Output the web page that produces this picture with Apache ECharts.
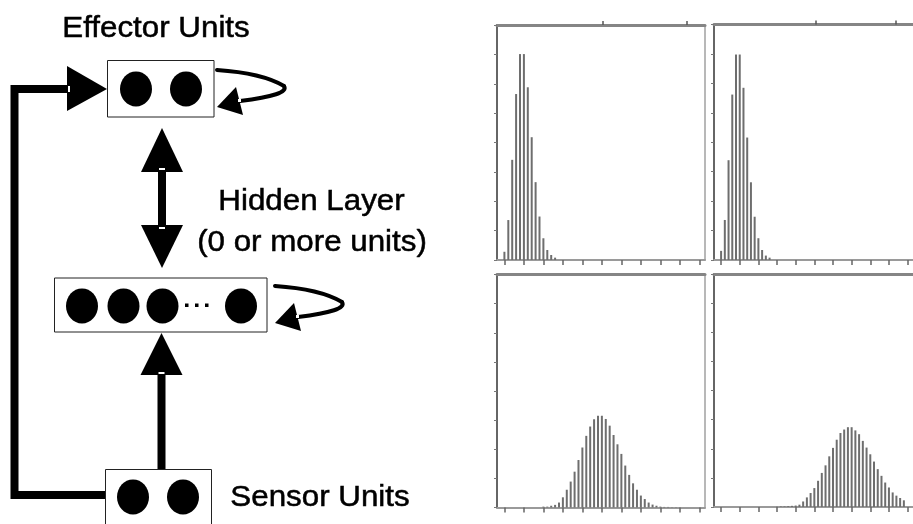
<!DOCTYPE html>
<html>
<head>
<meta charset="utf-8">
<script src="https://cdn.jsdelivr.net/npm/echarts@6/dist/echarts.min.js"></script>
<style>
  html, body { margin: 0; padding: 0; background: #fff; }
  #chart { width: 913px; height: 524px; }
</style>
</head>
<body>
<div id="chart"></div>
<script>
// Activity histograms: bin index and relative frequency for each panel.
const binsEarlyA = [0, 1, 2, 3, 4, 5, 6, 7, 8, 9, 10, 11, 12, 13];
const freqEarlyA = [0.28, 1.36, 3.41, 5.65, 7.01, 7.01, 5.88, 4.18, 2.65, 1.48, 0.74, 0.34, 0.17, 0.08];

const binsEarlyB = [0, 1, 2, 3, 4, 5, 6, 7, 8, 9, 10, 11, 12, 13];
const freqEarlyB = [0.31, 1.36, 3.39, 5.62, 6.98, 6.98, 5.85, 4.16, 2.64, 1.47, 0.74, 0.34, 0.15, 0.08];

const binsLateA = [10, 11, 12, 13, 14, 15, 16, 17, 18, 19, 20, 21, 22, 23, 24, 25, 26, 27, 28, 29,
                   30, 31, 32, 33, 34, 35, 36, 37, 38, 39, 40, 41, 42, 43, 44];
const freqLateA = [0.03, 0.03, 0.06, 0.09, 0.17, 0.35, 0.61, 0.89, 1.23, 1.63, 2.06, 2.46, 2.78, 3.03, 3.15, 3.15,
                   3.04, 2.81, 2.49, 2.17, 1.84, 1.44, 1.12, 0.83, 0.61, 0.41, 0.29, 0.17, 0.10, 0.06,
                   0.03, 0.02, 0.02, 0.01, 0.01];

const binsLateB = [15, 16, 17, 18, 19, 20, 21, 22, 23, 24, 25, 26, 27, 28, 29, 30, 31, 32, 33, 34,
                   35, 36, 37, 38, 39, 40, 41, 42, 43, 44, 45, 46, 47, 48, 49];
const freqLateB = [0.01, 0.02, 0.02, 0.03, 0.04, 0.05, 0.08, 0.19, 0.33, 0.48, 0.65, 0.90, 1.17, 1.43, 1.74, 2.03,
                   2.31, 2.54, 2.66, 2.74, 2.74, 2.63, 2.50, 2.27, 2.04, 1.81, 1.56, 1.30, 1.07, 0.84,
                   0.67, 0.50, 0.39, 0.31, 0.23];

// Tick positions along the bin axis, and the two marks above the upper frames.
const binTicks = [0, 5, 10, 15, 20, 25, 30, 35, 40, 45, 50];
const upperMarks = [25.3, 46.8];

const panels = [
  { bins: binsEarlyA, freq: freqEarlyA, grid: { left: 497, top: 25, width: 208, height: 235 }, upper: true, rightFrame: true },
  { bins: binsEarlyB, freq: freqEarlyB, grid: { left: 714, top: 24.5, width: 208, height: 235.5 }, upper: true, rightFrame: false },
  { bins: binsLateA, freq: freqLateA, grid: { left: 497, top: 274.5, width: 208, height: 233 }, upper: false, rightFrame: true },
  { bins: binsLateB, freq: freqLateB, grid: { left: 714, top: 274, width: 208, height: 233 }, upper: false, rightFrame: false }
];

const X_MIN = -1.9, X_MAX = 51.45;

const grid = [], xAxis = [], yAxis = [], series = [];
panels.forEach((p, i) => {
  grid.push(Object.assign({ containLabel: false }, p.grid));
  // bottom bin axis
  xAxis.push({
    type: 'value', gridIndex: i, position: 'bottom', min: X_MIN, max: X_MAX,
    axisLine: { show: true, onZero: false, lineStyle: { color: '#9a9a9a', width: 2 } },
    axisTick: { show: true, inside: false, length: 5, customValues: binTicks, lineStyle: { color: '#666', width: 1.5 } },
    axisLabel: { show: false }, splitLine: { show: false }
  });
  // upper frame
  xAxis.push({
    type: 'value', gridIndex: i, position: 'top', min: X_MIN, max: X_MAX,
    axisLine: { show: true, onZero: false, lineStyle: { color: '#858585', width: 3 } },
    axisTick: { show: p.upper, inside: false, length: 4, customValues: upperMarks, lineStyle: { color: '#555', width: 1.5 } },
    axisLabel: { show: false }, splitLine: { show: false }
  });
  // frequency axis
  yAxis.push({
    type: 'value', gridIndex: i, position: 'left', min: 0, max: 8, interval: 1,
    axisLine: { show: true, onZero: false, lineStyle: { color: '#666', width: 2 } },
    axisTick: { show: true, inside: false, length: 3, lineStyle: { color: '#777', width: 1 } },
    axisLabel: { show: false }, splitLine: { show: false }
  });
  // right frame
  yAxis.push({
    type: 'value', gridIndex: i, position: 'right', min: 0, max: 8,
    axisLine: { show: p.rightFrame, onZero: false, lineStyle: { color: '#a0a0a0', width: 1.5 } },
    axisTick: { show: false }, axisLabel: { show: false }, splitLine: { show: false }
  });
  series.push({
    type: 'bar', xAxisIndex: i * 2, yAxisIndex: i * 2,
    barWidth: 2, silent: true,
    itemStyle: { color: '#6e6e6e' },
    data: p.bins.map((b, k) => [b, p.freq[k]])
  });
});

// Network schematic: sensor units -> hidden layer <-> effector units, with recurrent loops.
const black = '#000';
const loopShape = (dx, dy) => [
  {
    type: 'bezierCurve',
    shape: { x1: 217 + dx, y1: 70 + dy, cpx1: 262 + dx, cpy1: 73 + dy, x2: 284 + dx, y2: 86 + dy },
    style: { stroke: black, lineWidth: 4, fill: null, lineCap: 'round' }
  },
  {
    type: 'bezierCurve',
    shape: { x1: 284 + dx, y1: 86 + dy, cpx1: 290 + dx, cpy1: 95 + dy, x2: 240 + dx, y2: 101 + dy },
    style: { stroke: black, lineWidth: 4, fill: null, lineCap: 'round' }
  },
  {
    type: 'polygon',
    shape: { points: [[217 + dx, 107 + dy], [236 + dx, 87 + dy], [243 + dx, 115 + dy]] },
    style: { fill: black }
  },
  { type: 'rect', shape: { x: 238 + dx, y: 99 + dy, width: 3, height: 3 }, style: { fill: '#fff' } }
];

const label = (text, x, y) => ({
  type: 'text', x: x, y: y, scaleX: 1.08,
  style: { text: text, x: 0, y: 0, align: 'center', verticalAlign: 'middle',
           fill: black, stroke: black, lineWidth: 0.5,
           font: '29px "Liberation Sans", Arial, sans-serif' }
});

const unit = (cx, cy) => ({ type: 'ellipse', shape: { cx: cx, cy: cy, rx: 16, ry: 17.5 }, style: { fill: black } });

const graphic = [
  // feedback path from sensors to effectors
  { type: 'polyline', shape: { points: [[106, 495], [14.5, 495], [14.5, 89], [70, 89]] },
    style: { stroke: black, lineWidth: 8, fill: null, lineJoin: 'miter' } },
  { type: 'polygon', shape: { points: [[67, 66], [67, 111], [107, 89]] }, style: { fill: black } },
  { type: 'rect', shape: { x: 68, y: 86, width: 2, height: 6 }, style: { fill: '#fff' } },

  // effector <-> hidden
  { type: 'rect', shape: { x: 158, y: 168, width: 8, height: 60 }, style: { fill: black } },
  { type: 'polygon', shape: { points: [[162, 128], [141, 172], [183, 172]] }, style: { fill: black } },
  { type: 'polygon', shape: { points: [[141, 225], [183, 225], [162, 268]] }, style: { fill: black } },
  { type: 'rect', shape: { x: 159, y: 168, width: 6, height: 2 }, style: { fill: '#fff' } },
  { type: 'rect', shape: { x: 159, y: 227, width: 6, height: 2 }, style: { fill: '#fff' } },

  // sensor -> hidden
  { type: 'rect', shape: { x: 157.5, y: 372, width: 8, height: 98 }, style: { fill: black } },
  { type: 'polygon', shape: { points: [[161.5, 333], [140.5, 375], [182.5, 375]] }, style: { fill: black } },
  { type: 'rect', shape: { x: 158.5, y: 372, width: 6, height: 2 }, style: { fill: '#fff' } },

  // boxes
  { type: 'rect', shape: { x: 107.5, y: 60.5, width: 106.5, height: 56.5 }, style: { fill: '#fff', stroke: '#222', lineWidth: 1 } },
  { type: 'rect', shape: { x: 54.5, y: 278, width: 212.5, height: 54 }, style: { fill: '#fff', stroke: '#222', lineWidth: 1 } },
  { type: 'rect', shape: { x: 105.5, y: 469.5, width: 106, height: 60 }, style: { fill: '#fff', stroke: '#222', lineWidth: 1 } },

  // units
  unit(136, 89), unit(186, 89),
  unit(82, 306), unit(123.5, 306), unit(162.5, 306), unit(241, 306),
  { type: 'rect', shape: { x: 185, y: 303.5, width: 3.5, height: 3.5 }, style: { fill: black } },
  { type: 'rect', shape: { x: 195, y: 303.5, width: 3.5, height: 3.5 }, style: { fill: black } },
  { type: 'rect', shape: { x: 205, y: 303.5, width: 3.5, height: 3.5 }, style: { fill: black } },
  unit(133, 497), unit(183, 497),

  // texts
  label('Effector Units', 156, 29),
  label('Hidden Layer', 311.5, 202),
  label('(0 or more units)', 312, 243),
  label('Sensor Units', 320, 498)
].concat(loopShape(0, 0), loopShape(58, 216));

const chart = echarts.init(document.getElementById('chart'), null, { renderer: 'canvas' });
chart.setOption({
  backgroundColor: '#fff',
  animation: false,
  grid: grid,
  xAxis: xAxis,
  yAxis: yAxis,
  series: series,
  graphic: graphic
});
</script>
</body>
</html>
